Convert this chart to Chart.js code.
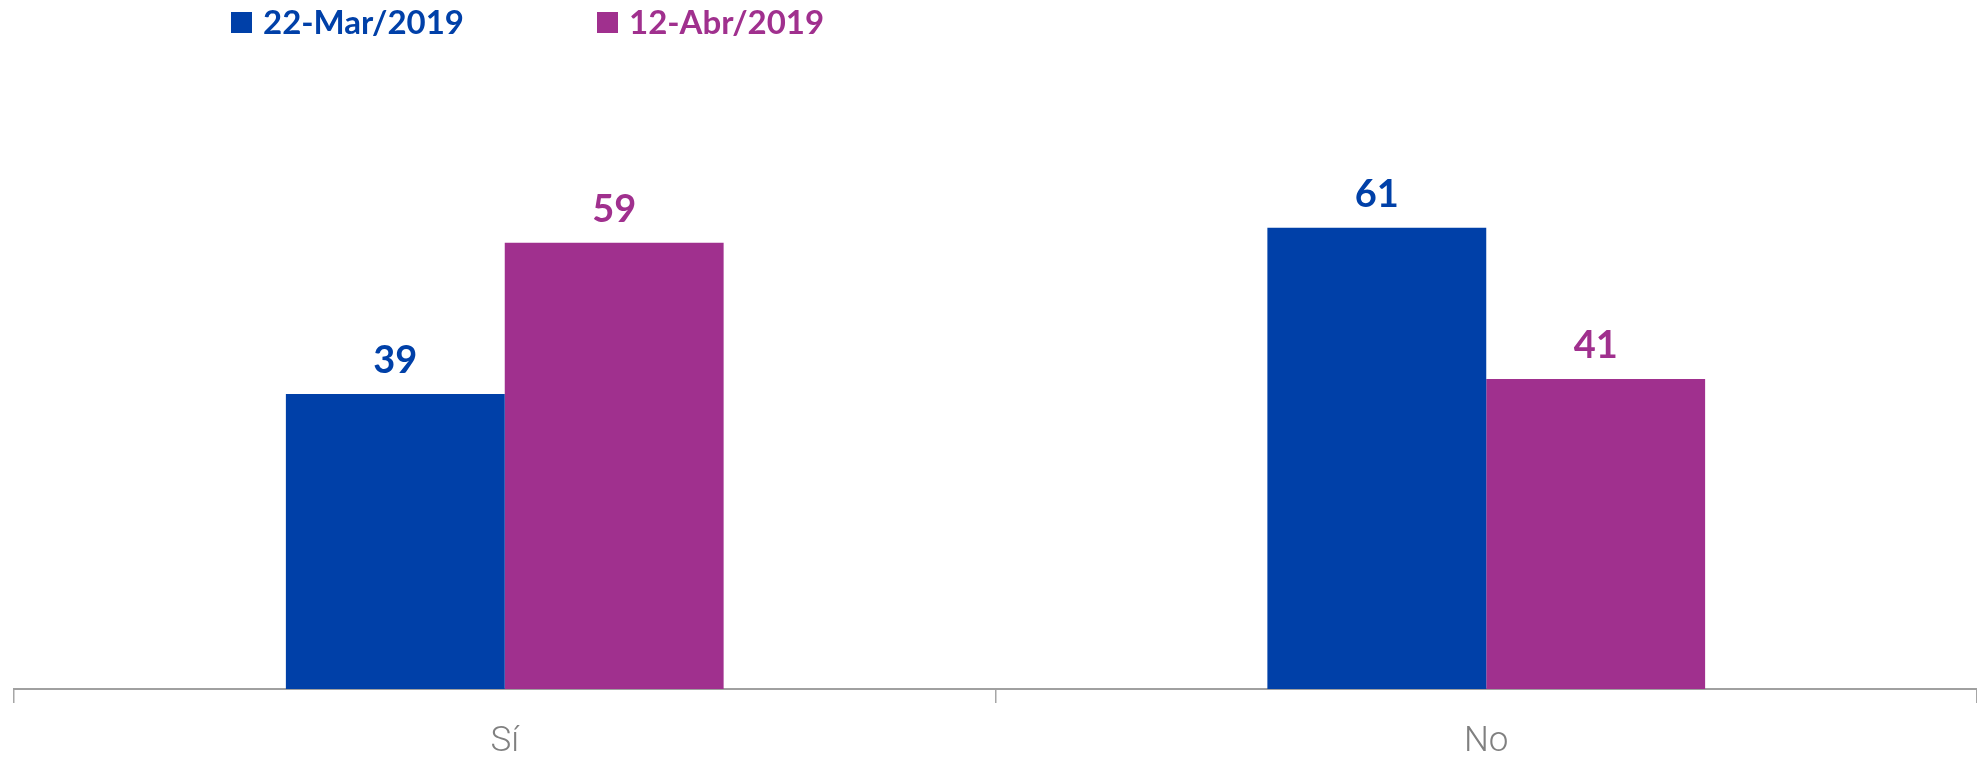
<!DOCTYPE html>
<html>
<head>
<meta charset="utf-8">
<script src="https://cdn.jsdelivr.net/npm/chart.js@4/dist/chart.umd.min.js"></script>
<style>
  html, body { margin: 0; padding: 0; background: #ffffff; }
  #wrap { position: relative; width: 1977px; height: 762px; }
</style>
</head>
<body>
<div id="wrap"><canvas id="c"></canvas></div>
<script>
// ---- data ----
const categories = ['Sí', 'No'];
const seriesLabels = ['22-Mar/2019', '12-Abr/2019'];
const marchValues = [39, 61];
const aprilValues = [59, 41];
const seriesColors = ['#0040A8', '#A0308E'];

// ---- custom legend (top-left) ----
const legendPlugin = {
  id: 'topLegend',
  afterDraw(chart) {
    const ctx = chart.ctx;
    const xs = [231, 597];
    ctx.save();
    ctx.font = 'bold 33px Lato';
    ctx.textBaseline = 'alphabetic';
    ctx.textAlign = 'left';
    chart.data.datasets.forEach((ds, i) => {
      const x = xs[i];
      ctx.fillStyle = ds.backgroundColor;
      ctx.fillRect(x, 12, 21, 21);
      ctx.fillText(ds.label, x + 32, 34);
    });
    ctx.restore();
  }
};

// ---- value labels above bars ----
const valueLabels = {
  id: 'valueLabels',
  afterDatasetsDraw(chart) {
    const ctx = chart.ctx;
    ctx.save();
    ctx.font = 'bold 38px Lato';
    ctx.textAlign = 'center';
    ctx.textBaseline = 'alphabetic';
    chart.data.datasets.forEach((ds, di) => {
      const meta = chart.getDatasetMeta(di);
      meta.data.forEach((bar, i) => {
        ctx.fillStyle = ds.backgroundColor;
        ctx.fillText(String(ds.data[i]), bar.x, bar.y - 21);
      });
    });
    ctx.restore();
  }
};

new Chart(document.getElementById('c'), {
  type: 'bar',
  data: {
    labels: categories,
    datasets: [
      { label: seriesLabels[0], data: marchValues, backgroundColor: seriesColors[0], borderWidth: 0 },
      { label: seriesLabels[1], data: aprilValues, backgroundColor: seriesColors[1], borderWidth: 0 }
    ]
  },
  options: {
    responsive: true,
    maintainAspectRatio: false,
    animation: false,
    events: [],
    layout: { padding: { left: 14, right: 0, top: 84, bottom: 0 } },
    categoryPercentage: 0.446,
    barPercentage: 1.0,
    plugins: {
      legend: { display: false },
      tooltip: { enabled: false },
      title: { display: false }
    },
    scales: {
      x: {
        offset: true,
        grid: {
          display: true,
          offset: true,
          drawOnChartArea: false,
          drawTicks: true,
          tickLength: 14,
          color: '#a6a6a6',
          lineWidth: 1.5
        },
        border: { display: true, color: '#a0a0a0', width: 2 },
        ticks: {
          color: '#808080',
          font: { family: 'Roboto', size: 35, weight: 300 },
          padding: 18,
          maxRotation: 0
        },
        afterFit(scale) { scale.height = 73; }
      },
      y: {
        display: false,
        min: 0,
        max: 80
      }
    }
  },
  plugins: [valueLabels, legendPlugin]
});
</script>
</body>
</html>
